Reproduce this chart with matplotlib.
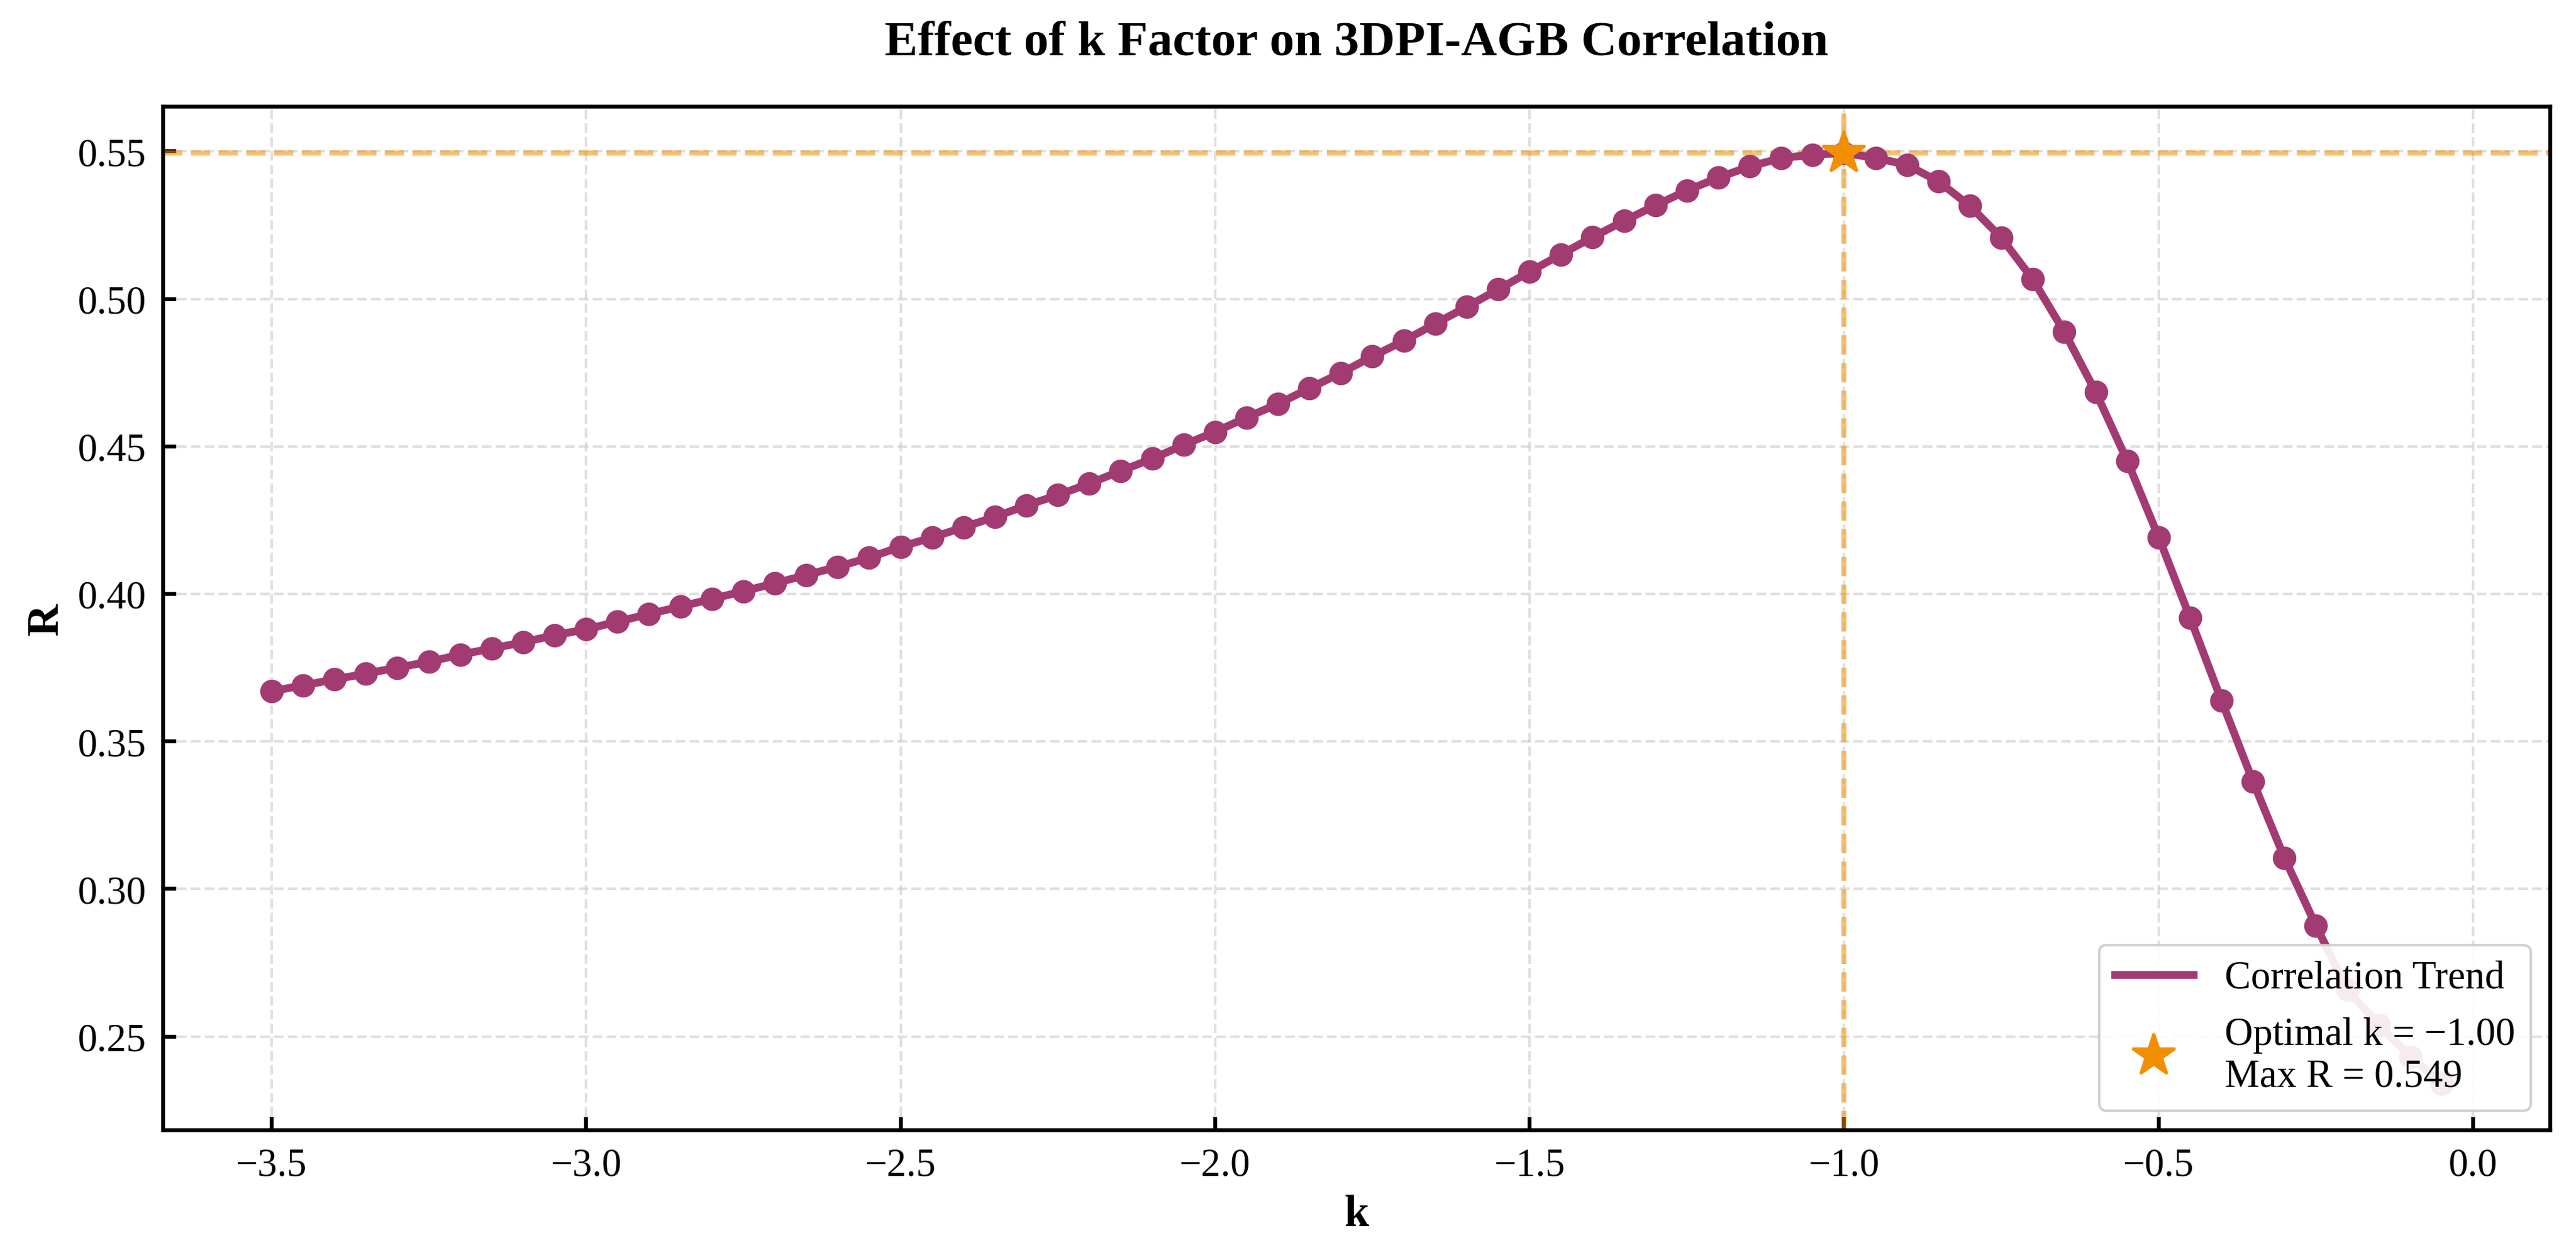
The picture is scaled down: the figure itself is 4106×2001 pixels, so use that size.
import matplotlib
matplotlib.use('Agg')
import matplotlib.pyplot as plt
import numpy as np

plt.rcParams['font.family'] = ['Liberation Serif', 'DejaVu Serif']
plt.rcParams['axes.unicode_minus'] = True

# k values and correlation R
k_values = [-3.50, -3.45, -3.40, -3.35, -3.30, -3.25, -3.20, -3.15, -3.10, -3.05,
            -3.00, -2.95, -2.90, -2.85, -2.80, -2.75, -2.70, -2.65, -2.60, -2.55,
            -2.50, -2.45, -2.40, -2.35, -2.30, -2.25, -2.20, -2.15, -2.10, -2.05,
            -2.00, -1.95, -1.90, -1.85, -1.80, -1.75, -1.70, -1.65, -1.60, -1.55,
            -1.50, -1.45, -1.40, -1.35, -1.30, -1.25, -1.20, -1.15, -1.10, -1.05,
            -1.00, -0.95, -0.90, -0.85, -0.80, -0.75, -0.70, -0.65, -0.60, -0.55,
            -0.50, -0.45, -0.40, -0.35, -0.30, -0.25, -0.20, -0.15, -0.10, -0.05]
r_values = [0.3670, 0.3690, 0.3710, 0.3730, 0.3750, 0.3770, 0.3794, 0.3815, 0.3836, 0.3860,
            0.3880, 0.3906, 0.3932, 0.3957, 0.3983, 0.4009, 0.4036, 0.4064, 0.4092, 0.4123,
            0.4160, 0.4191, 0.4226, 0.4261, 0.4300, 0.4335, 0.4374, 0.4417, 0.4458, 0.4505,
            0.4549, 0.4598, 0.4644, 0.4697, 0.4749, 0.4805, 0.4858, 0.4916, 0.4973, 0.5032,
            0.5092, 0.5151, 0.5209, 0.5264, 0.5317, 0.5367, 0.5411, 0.5449, 0.5477, 0.5489,
            0.5494, 0.5478, 0.5454, 0.5398, 0.5315, 0.5207, 0.5066, 0.4888, 0.4684, 0.4451,
            0.4192, 0.3919, 0.3638, 0.3364, 0.3105, 0.2876, 0.2658, 0.2539, 0.2432, 0.2340]

line_color = '#A23B72'
best_color = '#F18F01'

k = np.array(k_values)
r = np.array(r_values)
i_best = int(np.argmax(r))
best_k = k[i_best]
max_r = r[i_best]

fig = plt.figure(figsize=(4106 / 300, 2002 / 300), dpi=300)
ax = fig.add_axes([0.0633, 0.0994, 0.9267, 0.8152])

ax.plot(k, r, color=line_color, linewidth=3, label='Correlation Trend', zorder=3)
ax.plot(k, r, 'o', color=line_color, markersize=8, zorder=3)

ax.axhline(max_r, color=best_color, linestyle='--', linewidth=2, alpha=0.55, zorder=2)
ax.axvline(best_k, color=best_color, linestyle='--', linewidth=2, alpha=0.55, zorder=2)

best_label = f'Optimal k = {best_k:.2f}\nMax R = {max_r:.3f}'.replace('-', '\u2212')
ax.plot(best_k, max_r, '*', color=best_color, markersize=17, zorder=5,
        linestyle='none', label=best_label)

ax.set_title('Effect of k Factor on 3DPI-AGB Correlation', fontsize=19,
             fontweight='bold', pad=20)
ax.set_xlabel('k', fontsize=17, fontweight='bold')
ax.set_ylabel('R', fontsize=17, fontweight='bold')

ax.grid(True, linestyle='--', color='#cccccc', alpha=0.6, linewidth=1)
ax.set_axisbelow(True)
ax.tick_params(direction='in', length=5, width=1.5, labelsize=15, pad=6.5)
for s in ax.spines.values():
    s.set_linewidth(1.5)

leg = ax.legend(loc='lower right', fontsize=15, framealpha=0.9, edgecolor='#cccccc')

fig.savefig('out.png', dpi=300)
